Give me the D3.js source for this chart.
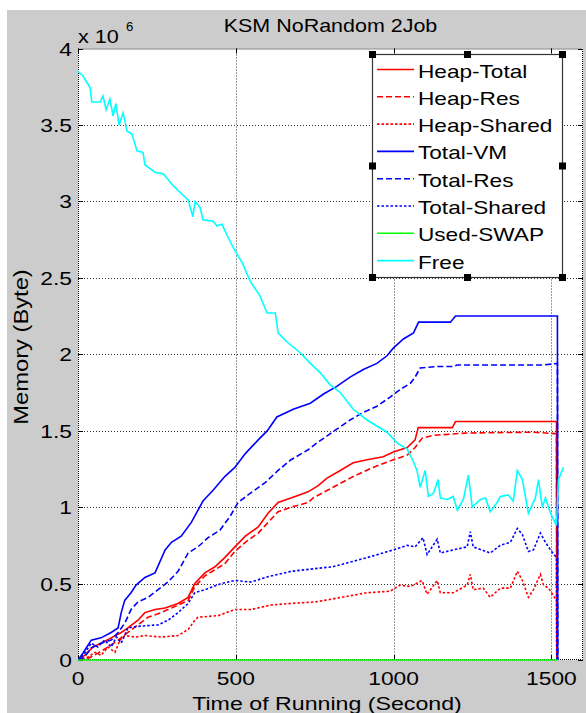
<!DOCTYPE html>
<html>
<head>
<meta charset="utf-8">
<script src="https://cdn.jsdelivr.net/npm/d3@7"></script>
<style>
  body { margin: 0; background: #fff; }
  text { font-family: "Liberation Sans", Arial, sans-serif; fill: #000; }
</style>
</head>
<body>
<script>
// values are in units of 10^6 bytes, time in seconds
var heapTotal = [[0,0],[21,0.03],[48,0.085],[73,0.11],[105,0.145],[137,0.18],[158,0.21],[190,0.26],[212,0.31],[244,0.33],[276,0.34],[317,0.37],[349,0.41],[370,0.50],[402,0.57],[434,0.61],[465,0.67],[497,0.74],[530,0.81],[571,0.87],[602,0.96],[634,1.03],[688,1.07],[729,1.10],[761,1.14],[789,1.19],[831,1.24],[872,1.29],[916,1.31],[967,1.33],[999,1.36],[1043,1.39],[1068,1.44],[1078,1.52],[1186,1.52],[1196,1.56],[1516,1.56],[1517,0]];
var heapRes = [[0,0],[32,0.01],[63,0.045],[95,0.085],[127,0.13],[158,0.18],[190,0.23],[222,0.28],[263,0.31],[307,0.35],[349,0.39],[370,0.48],[402,0.55],[434,0.59],[465,0.63],[497,0.71],[530,0.77],[571,0.83],[602,0.90],[634,0.97],[675,1.00],[729,1.03],[745,1.06],[808,1.13],[872,1.20],[935,1.26],[999,1.31],[1043,1.34],[1068,1.39],[1090,1.45],[1126,1.47],[1233,1.485],[1443,1.49],[1516,1.48],[1517,0]];
var heapShared = [[0,0],[32,0.02],[54,0.05],[73,0.03],[95,0.085],[117,0.05],[133,0.13],[148,0.16],[181,0.15],[212,0.16],[263,0.15],[317,0.16],[349,0.20],[370,0.26],[380,0.28],[444,0.29],[497,0.33],[548,0.33],[612,0.36],[675,0.37],[751,0.38],[808,0.40],[916,0.44],[989,0.45],[1021,0.49],[1053,0.48],[1090,0.52],[1106,0.43],[1138,0.52],[1148,0.44],[1189,0.44],[1233,0.49],[1243,0.56],[1252,0.46],[1284,0.47],[1306,0.41],[1338,0.47],[1370,0.47],[1392,0.58],[1408,0.52],[1427,0.41],[1443,0.46],[1465,0.56],[1475,0.49],[1491,0.47],[1516,0.39],[1517,0]];
var totalVM = [[0,0],[16,0.046],[42,0.13],[73,0.145],[105,0.18],[127,0.21],[137,0.31],[148,0.39],[168,0.44],[184,0.49],[212,0.54],[244,0.57],[276,0.72],[296,0.77],[327,0.81],[359,0.90],[396,1.04],[428,1.11],[465,1.20],[497,1.26],[530,1.35],[571,1.44],[600,1.50],[630,1.59],[682,1.64],[736,1.68],[778,1.74],[820,1.79],[862,1.85],[904,1.90],[947,1.94],[979,1.99],[999,2.04],[1031,2.10],[1063,2.14],[1079,2.21],[1180,2.21],[1196,2.25],[1519,2.25],[1520,0]];
var totalRes = [[0,0],[21,0.02],[42,0.08],[73,0.11],[105,0.13],[127,0.18],[148,0.24],[168,0.33],[190,0.38],[222,0.41],[254,0.46],[285,0.51],[317,0.58],[349,0.70],[380,0.74],[412,0.80],[450,0.85],[482,0.94],[507,1.03],[539,1.08],[593,1.16],[634,1.24],[675,1.31],[729,1.375],[757,1.42],[820,1.51],[862,1.57],[904,1.62],[947,1.66],[989,1.72],[1021,1.77],[1053,1.81],[1068,1.85],[1084,1.91],[1138,1.92],[1189,1.92],[1201,1.93],[1475,1.93],[1519,1.94],[1520,0]];
var totalShared = [[0,0],[21,0.045],[42,0.11],[63,0.085],[84,0.13],[105,0.085],[122,0.15],[137,0.11],[158,0.21],[190,0.22],[254,0.23],[285,0.26],[317,0.31],[349,0.37],[370,0.44],[402,0.46],[454,0.50],[497,0.52],[548,0.51],[602,0.545],[675,0.58],[761,0.60],[808,0.61],[916,0.67],[999,0.72],[1043,0.75],[1068,0.74],[1093,0.80],[1106,0.69],[1138,0.79],[1148,0.70],[1189,0.72],[1233,0.74],[1243,0.84],[1252,0.74],[1306,0.70],[1338,0.75],[1370,0.77],[1392,0.86],[1408,0.82],[1427,0.71],[1443,0.72],[1465,0.83],[1481,0.77],[1497,0.72],[1516,0.67],[1517,0]];
var usedSwap = [[0,0],[1521,0]];
var free = [[0,3.85],[16,3.82],[38,3.745],[44,3.65],[70,3.65],[79,3.69],[89,3.60],[101,3.67],[111,3.56],[120,3.64],[130,3.50],[143,3.58],[155,3.46],[171,3.44],[187,3.33],[206,3.32],[212,3.24],[244,3.19],[270,3.18],[298,3.11],[323,3.06],[349,3.01],[364,2.90],[371,3.00],[387,2.96],[396,2.88],[428,2.87],[440,2.84],[456,2.85],[472,2.78],[491,2.70],[520,2.60],[545,2.48],[577,2.38],[599,2.27],[625,2.27],[634,2.14],[662,2.08],[704,2.01],[736,1.94],[767,1.88],[799,1.80],[831,1.75],[872,1.64],[916,1.57],[979,1.49],[1011,1.42],[1043,1.38],[1062,1.30],[1074,1.24],[1084,1.13],[1100,1.24],[1110,1.07],[1126,1.09],[1141,1.18],[1148,1.06],[1170,1.05],[1189,1.07],[1202,0.98],[1221,1.05],[1237,1.21],[1249,1.00],[1275,1.05],[1291,1.06],[1306,0.97],[1328,1.03],[1338,1.07],[1363,1.08],[1379,1.04],[1392,1.24],[1408,1.18],[1427,0.96],[1449,1.06],[1459,1.18],[1471,1.00],[1481,1.06],[1497,0.96],[1516,0.88],[1522,1.18],[1538,1.26]];

var xTicks = [0, 500, 1000, 1500],
	yTicks = [0, 0.5, 1, 1.5, 2, 2.5, 3, 3.5, 4],
	yTickLabels = ["0", "0.5", "1", "1.5", "2", "2.5", "3", "3.5", "4"];

var series = [
	{ name: "Heap-Total", data: heapTotal, color: "#ff0000", dash: null },
	{ name: "Heap-Res", data: heapRes, color: "#ff0000", dash: "6,3" },
	{ name: "Heap-Shared", data: heapShared, color: "#ff0000", dash: "2.5,2" },
	{ name: "Total-VM", data: totalVM, color: "#0000ff", dash: null },
	{ name: "Total-Res", data: totalRes, color: "#0000ff", dash: "6,3" },
	{ name: "Total-Shared", data: totalShared, color: "#0000ff", dash: "2.5,2" },
	{ name: "Used-SWAP", data: usedSwap, color: "#00ff00", dash: null },
	{ name: "Free", data: free, color: "#00ffff", dash: null }
];

var w = 586, h = 713,
	plotL = 78, plotR = 583, plotT = 48.5, plotB = 660;

var svg = d3.select("body")
	.append("svg")
	.attr("width", w)
	.attr("height", h);

// figure background, white strip on top and left like the screenshot
svg.append("rect")
	.attr("x", 7).attr("y", 10)
	.attr("width", w - 7).attr("height", h - 10)
	.attr("fill", "#cccccc");

var x = d3.scaleLinear().domain([0, 1600]).range([plotL, plotR]),
	y = d3.scaleLinear().domain([0, 4]).range([plotB, plotT]);

svg.append("rect")
	.attr("x", plotL).attr("y", plotT)
	.attr("width", plotR - plotL).attr("height", plotB - plotT)
	.attr("fill", "#fff");

// stretched text, the reference font is wider than Arial
function label(parent, str, px, py, size, sx, anchor, rot) {
	var tr = "translate(" + px + "," + py + ")" + (rot ? " rotate(" + rot + ")" : "") + " scale(" + sx + ",1)";
	return parent.append("text")
		.attr("transform", tr)
		.attr("font-size", size)
		.attr("text-anchor", anchor || "start")
		.text(str);
}

// grid
var grid = svg.append("g")
	.attr("stroke", "#333")
	.attr("stroke-width", 1)
	.attr("stroke-dasharray", "1,2");

grid.selectAll(".gx")
	.data(xTicks.slice(1))
	.enter()
	.append("line")
	.attr("x1", function (d) { return Math.round(x(d)) + 0.5; })
	.attr("x2", function (d) { return Math.round(x(d)) + 0.5; })
	.attr("y1", plotT).attr("y2", plotB);

grid.selectAll(".gy")
	.data(yTicks.slice(1, -1))
	.enter()
	.append("line")
	.attr("y1", function (d) { return Math.round(y(d)) + 0.5; })
	.attr("y2", function (d) { return Math.round(y(d)) + 0.5; })
	.attr("x1", plotL).attr("x2", plotR);

// axes box, dotted like the reference
svg.append("rect")
	.attr("x", plotL + 0.5).attr("y", plotT + 0.5)
	.attr("width", plotR - plotL - 1).attr("height", plotB - plotT - 1)
	.attr("fill", "none")
	.attr("stroke", "#000")
	.attr("stroke-width", 1)
	.attr("stroke-dasharray", "1,1");

// inward ticks on all four sides
var tk = 5,
	ticks = svg.append("g").attr("stroke", "#000").attr("stroke-width", 1);

xTicks.forEach(function (d) {
	var px = Math.round(x(d)) + 0.5;
	ticks.append("line").attr("x1", px).attr("x2", px).attr("y1", plotB).attr("y2", plotB - tk);
	ticks.append("line").attr("x1", px).attr("x2", px).attr("y1", plotT).attr("y2", plotT + tk);
});
yTicks.forEach(function (d) {
	var py = Math.round(y(d)) + 0.5;
	ticks.append("line").attr("y1", py).attr("y2", py).attr("x1", plotL).attr("x2", plotL + tk);
	ticks.append("line").attr("y1", py).attr("y2", py).attr("x1", plotR).attr("x2", plotR - tk);
});

// data lines
var line = d3.line()
	.x(function (d) { return x(d[0]); })
	.y(function (d) { return y(d[1]); });

svg.append("clipPath").attr("id", "plot")
	.append("rect")
	.attr("x", plotL).attr("y", plotT)
	.attr("width", plotR - plotL).attr("height", plotB - plotT + 1);

svg.append("g")
	.attr("clip-path", "url(#plot)")
	.selectAll("path")
	.data(series)
	.enter()
	.append("path")
	.attr("d", function (d) { return line(d.data); })
	.attr("fill", "none")
	.attr("stroke", function (d) { return d.color; })
	.attr("stroke-width", 1.6)
	.attr("stroke-dasharray", function (d) { return d.dash; });

// tick labels
xTicks.forEach(function (d) {
	label(svg, String(d), x(d), 685, 19, 1.2, "middle");
});
yTicks.forEach(function (d, i) {
	label(svg, yTickLabels[i], plotL - 6, y(d) + 7, 19, 1.2, "end");
});

label(svg, "x 10", plotL, 43, 18, 1.2);
label(svg, "6", 126, 31, 12, 1.1);

label(svg, "KSM NoRandom 2Job", (plotL + plotR) / 2, 32, 19, 1.13, "middle");
label(svg, "Time of Running (Second)", 327, 710, 19, 1.22, "middle");
label(svg, "Memory (Byte)", 28, 347, 21, 1.13, "middle", -90);

// legend
var lx0 = 372, ly0 = 54, lx1 = 562, ly1 = 277;
var legend = svg.append("g");

legend.append("rect")
	.attr("x", lx0 + 0.5).attr("y", ly0 + 0.5)
	.attr("width", lx1 - lx0).attr("height", ly1 - ly0)
	.attr("fill", "#fff")
	.attr("stroke", "#333")
	.attr("stroke-width", 1.2);

var rows = legend.selectAll(".row")
	.data(series)
	.enter()
	.append("g")
	.attr("transform", function (d, i) { return "translate(0," + (69.5 + i * 27.3) + ")"; });

rows.append("line")
	.attr("x1", 377).attr("x2", 414)
	.attr("y1", 0).attr("y2", 0)
	.attr("stroke", function (d) { return d.color; })
	.attr("stroke-width", 1.6)
	.attr("stroke-dasharray", function (d) { return d.dash; });

rows.each(function (d) {
	label(d3.select(this), d.name, 418, 8, 19, 1.19);
});

// selection handles
var hx = [lx0, (lx0 + lx1) / 2, lx1],
	hy = [ly0, (ly0 + ly1) / 2, ly1],
	handles = [];
hx.forEach(function (a) {
	hy.forEach(function (b) {
		if (!(a === hx[1] && b === hy[1])) { handles.push([a, b]); }
	});
});

legend.selectAll(".handle")
	.data(handles)
	.enter()
	.append("rect")
	.attr("x", function (d) { return d[0] - 3; })
	.attr("y", function (d) { return d[1] - 3; })
	.attr("width", 7).attr("height", 7)
	.attr("fill", "#000");
</script>
</body>
</html>
